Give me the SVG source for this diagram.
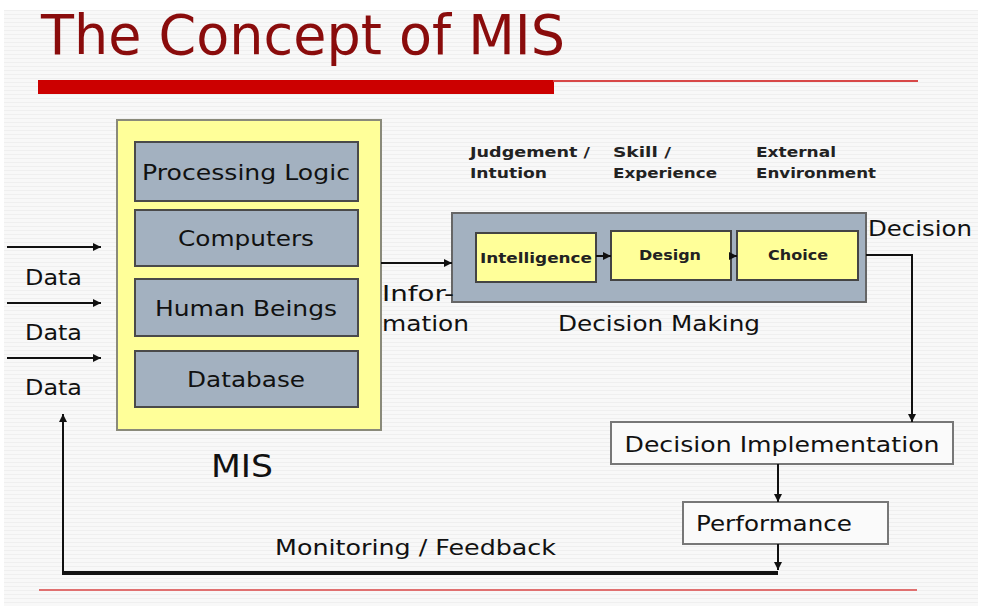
<svg xmlns="http://www.w3.org/2000/svg" width="982" height="609" viewBox="0 0 982 609">
  <defs>
    <pattern id="stripes" width="8" height="4" patternUnits="userSpaceOnUse">
      <rect width="8" height="4" fill="#f8f8f8"/>
      <rect y="2" width="8" height="1" fill="#efefef"/>
    </pattern>
    <marker id="arrow" viewBox="0 0 10 10" refX="10" refY="5" markerWidth="8" markerHeight="8" markerUnits="userSpaceOnUse" orient="auto">
      <path d="M0,0 L10,5 L0,10 z" fill="#111"/>
    </marker>
  </defs>
  <style>
    .lbl { font-family: "DejaVu Sans", Verdana, sans-serif; fill: #111; }
    .big { font-size: 22px; }
    .small { font-family: "DejaVu Sans", Verdana, sans-serif; font-size: 14px; font-weight: bold; fill: #222; }
    .mis-part { fill: #a3b1c0; stroke: #4a4a4a; stroke-width: 2; }
    .step { fill: #ffff99; stroke: #444; stroke-width: 2; }
    .plain { fill: #fafafa; stroke: #777; stroke-width: 2; }
    .wire { fill: none; stroke: #111; stroke-width: 2; }
  </style>

  <!-- slide background -->
  <rect width="982" height="609" fill="#ffffff"/>
  <rect x="4" y="10" width="974" height="596" fill="url(#stripes)"/>

  <!-- title -->
  <text x="41" y="54" font-family="'DejaVu Sans', Tahoma, sans-serif" font-size="56" fill="#8a0c0c" textLength="524" lengthAdjust="spacingAndGlyphs">The Concept of MIS</text>
  <rect x="38" y="80" width="516" height="14" fill="#cc0000"/>
  <rect x="553" y="80" width="365" height="2" fill="#d84848"/>

  <!-- MIS block -->
  <g id="mis">
    <rect x="117" y="120" width="264" height="310" fill="#ffff99" stroke="#8a8a7a" stroke-width="2"/>
    <text class="lbl" x="242" y="477" font-size="32" text-anchor="middle" textLength="62" lengthAdjust="spacingAndGlyphs">MIS</text>
  </g>
  <g id="processing-logic">
    <rect class="mis-part" x="135" y="142" width="223" height="59"/>
    <text class="lbl big" x="246" y="180" text-anchor="middle" textLength="208" lengthAdjust="spacingAndGlyphs">Processing Logic</text>
  </g>
  <g id="computers">
    <rect class="mis-part" x="135" y="210" width="223" height="56"/>
    <text class="lbl big" x="246" y="246" text-anchor="middle" textLength="136" lengthAdjust="spacingAndGlyphs">Computers</text>
  </g>
  <g id="human-beings">
    <rect class="mis-part" x="135" y="279" width="223" height="57"/>
    <text class="lbl big" x="246" y="316" text-anchor="middle" textLength="182" lengthAdjust="spacingAndGlyphs">Human Beings</text>
  </g>
  <g id="database">
    <rect class="mis-part" x="135" y="351" width="223" height="56"/>
    <text class="lbl big" x="246" y="387" text-anchor="middle" textLength="118" lengthAdjust="spacingAndGlyphs">Database</text>
  </g>

  <!-- data inputs -->
  <g id="data-labels">
    <text class="lbl big" x="25" y="285" textLength="57" lengthAdjust="spacingAndGlyphs">Data</text>
    <text class="lbl big" x="25" y="340" textLength="57" lengthAdjust="spacingAndGlyphs">Data</text>
    <text class="lbl big" x="25" y="395" textLength="57" lengthAdjust="spacingAndGlyphs">Data</text>
  </g>

  <!-- decision making -->
  <g id="decision-making">
    <rect x="452" y="213" width="414" height="89" fill="#a3b1c0" stroke="#666" stroke-width="2"/>
    <text class="lbl big" x="659" y="331" text-anchor="middle" textLength="202" lengthAdjust="spacingAndGlyphs">Decision Making</text>
  </g>
  <g id="intelligence">
    <rect class="step" x="476" y="233" width="120" height="49"/>
    <text class="small" x="536" y="263" text-anchor="middle" textLength="112" lengthAdjust="spacingAndGlyphs">Intelligence</text>
  </g>
  <g id="design">
    <rect class="step" x="611" y="231" width="120" height="49"/>
    <text class="small" x="670" y="260" text-anchor="middle" textLength="62" lengthAdjust="spacingAndGlyphs">Design</text>
  </g>
  <g id="choice">
    <rect class="step" x="737" y="231" width="121" height="49"/>
    <text class="small" x="798" y="260" text-anchor="middle" textLength="60" lengthAdjust="spacingAndGlyphs">Choice</text>
  </g>

  <!-- influences on decision making -->
  <g id="influences">
    <text class="small" x="470" y="157" textLength="120" lengthAdjust="spacingAndGlyphs">Judgement /</text>
    <text class="small" x="470" y="178" textLength="77" lengthAdjust="spacingAndGlyphs">Intution</text>
    <text class="small" x="613" y="157" textLength="58" lengthAdjust="spacingAndGlyphs">Skill /</text>
    <text class="small" x="613" y="178" textLength="104" lengthAdjust="spacingAndGlyphs">Experience</text>
    <text class="small" x="756" y="157" textLength="80" lengthAdjust="spacingAndGlyphs">External</text>
    <text class="small" x="756" y="178" textLength="120" lengthAdjust="spacingAndGlyphs">Environment</text>
  </g>

  <!-- implementation and performance -->
  <g id="decision-implementation">
    <rect class="plain" x="611" y="422" width="342" height="42"/>
    <text class="lbl big" x="782" y="452" text-anchor="middle" textLength="315" lengthAdjust="spacingAndGlyphs">Decision Implementation</text>
  </g>
  <g id="performance">
    <rect class="plain" x="683" y="502" width="205" height="42"/>
    <text class="lbl big" x="696" y="531" textLength="156" lengthAdjust="spacingAndGlyphs">Performance</text>
  </g>

  <!-- connectors -->
  <g id="connectors">
    <line class="wire" x1="7" y1="247" x2="101" y2="247" marker-end="url(#arrow)"/>
    <line class="wire" x1="7" y1="303" x2="101" y2="303" marker-end="url(#arrow)"/>
    <line class="wire" x1="7" y1="358" x2="101" y2="358" marker-end="url(#arrow)"/>

    <line class="wire" x1="381" y1="263" x2="452" y2="263" marker-end="url(#arrow)"/>
    <text class="lbl big" x="382" y="301" textLength="72" lengthAdjust="spacingAndGlyphs">Infor-</text>
    <text class="lbl big" x="382" y="331" textLength="87" lengthAdjust="spacingAndGlyphs">mation</text>

    <line class="wire" x1="596" y1="256" x2="611" y2="256" marker-end="url(#arrow)"/>
    <line class="wire" x1="731" y1="256" x2="737" y2="256" marker-end="url(#arrow)"/>

    <polyline class="wire" points="866,255 912,255 912,422" marker-end="url(#arrow)"/>
    <text class="lbl big" x="868" y="236" textLength="104" lengthAdjust="spacingAndGlyphs">Decision</text>

    <line class="wire" x1="778" y1="464" x2="778" y2="502" marker-end="url(#arrow)"/>
    <line class="wire" x1="778" y1="544" x2="778" y2="570" marker-end="url(#arrow)"/>

    <line x1="778" y1="573" x2="62" y2="573" stroke="#111" stroke-width="4"/>
    <line class="wire" x1="63" y1="575" x2="63" y2="414" marker-end="url(#arrow)"/>
    <text class="lbl big" x="275" y="555" textLength="281" lengthAdjust="spacingAndGlyphs">Monitoring / Feedback</text>
  </g>

  <!-- footer rule -->
  <rect x="39" y="589" width="878" height="2" fill="#e07070"/>
</svg>
